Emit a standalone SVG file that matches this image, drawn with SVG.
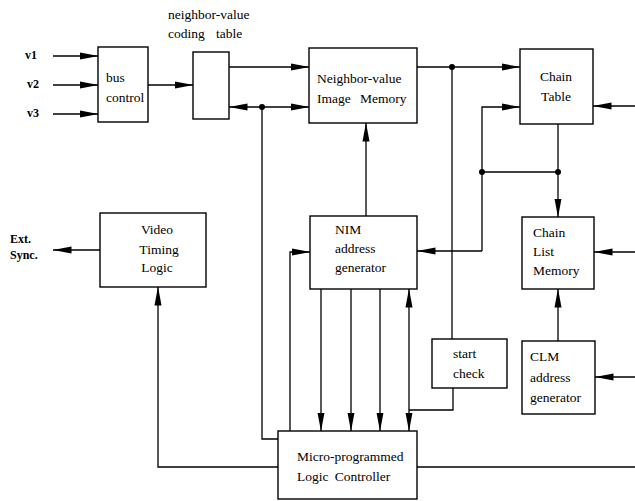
<svg xmlns="http://www.w3.org/2000/svg" width="635" height="501" viewBox="0 0 635 501">
<style>
.box{fill:#fff;stroke:#000;stroke-width:1.4}
.ln{fill:none;stroke:#000;stroke-width:1.3}
.ar{marker-end:url(#ah)}
.t{font-family:"Liberation Serif","Times New Roman",serif;font-size:13.5px;fill:#000}
.b{font-weight:bold;font-size:12px}
.m{text-anchor:middle}
.dot{fill:#000}
</style>
<defs>
<marker id="ah" markerUnits="userSpaceOnUse" markerWidth="19" markerHeight="8" viewBox="0 0 19 8" refX="18.5" refY="4" orient="auto-start-reverse">
<path d="M0,0.5 L19,4 L0,7.5 Z" fill="#000"/>
</marker>
</defs>
<rect width="635" height="501" fill="#fff"/>
<g id="connectors">
<path class="ln ar" d="M53,56 H98"/>
<path class="ln ar" d="M53,85 H98"/>
<path class="ln ar" d="M53,114 H98"/>
<path class="ln ar" d="M148,85 H193"/>
<path class="ln ar" d="M229,67 H309"/>
<path class="ln ar" d="M262,107 H229"/>
<path class="ln ar" d="M262,107 H309"/>
<path class="ln" d="M262,107 V439 H278"/>
<path class="ln ar" d="M417,67 H520"/>
<path class="ln" d="M452,67 V339"/>
<path class="ln ar" d="M482,251 V107 H520"/>
<path class="ln ar" d="M482,251 H417"/>
<path class="ln" d="M482,172 H558"/>
<path class="ln ar" d="M558,124 V217"/>
<path class="ln ar" d="M635,106 H593"/>
<path class="ln ar" d="M635,252 H594"/>
<path class="ln ar" d="M635,377 H595"/>
<path class="ln ar" d="M558,341 V289"/>
<path class="ln ar" d="M366,216 V123"/>
<path class="ln ar" d="M321,289 V431"/>
<path class="ln ar" d="M351,289 V431"/>
<path class="ln ar" d="M380,289 V431"/>
<path class="ln ar" d="M409,289 V431" style="marker-start:url(#ah)"/>
<path class="ln" d="M453,388 V410 H409"/>
<path class="ln ar" d="M290,431 V252 H310"/>
<path class="ln ar" d="M278,467 H158 V287"/>
<path class="ln" d="M417,467 H635"/>
<path class="ln ar" d="M100,250 H53"/>
<circle class="dot" cx="262" cy="107" r="3"/>
<circle class="dot" cx="452" cy="67" r="3"/>
<circle class="dot" cx="482" cy="172" r="3"/>
<circle class="dot" cx="558" cy="172" r="3"/>
</g>
<g id="labels">
<text class="t" x="168" y="19">neighbor-value</text>
<text class="t" x="168" y="38" word-spacing="8">coding table</text>
<text class="t b" x="25" y="59">v1</text>
<text class="t b" x="27" y="88">v2</text>
<text class="t b" x="27" y="117">v3</text>
<text class="t b" x="10" y="243">Ext.</text>
<text class="t b" x="10" y="259">Sync.</text>
</g>
<g id="bus-control">
<rect class="box" x="98" y="47" width="50" height="75"/>
<text class="t" x="106" y="82">bus</text>
<text class="t" x="106" y="102">control</text>
</g>
<g id="coding-table">
<rect class="box" x="193" y="52" width="36" height="67"/>
</g>
<g id="nim-memory">
<rect class="box" x="309" y="48" width="108" height="75"/>
<text class="t" x="317" y="83">Neighbor-value</text>
<text class="t" x="317" y="103" word-spacing="6">Image Memory</text>
</g>
<g id="chain-table">
<rect class="box" x="520" y="49" width="73" height="75"/>
<text class="t m" x="556" y="81">Chain</text>
<text class="t m" x="556" y="101">Table</text>
</g>
<g id="video-timing-logic">
<rect class="box" x="100" y="213" width="106" height="74"/>
<text class="t m" x="157" y="234">Video</text>
<text class="t m" x="159" y="254">Timing</text>
<text class="t m" x="157" y="272">Logic</text>
</g>
<g id="nim-address-generator">
<rect class="box" x="310" y="216" width="107" height="73"/>
<text class="t" x="335" y="234">NIM</text>
<text class="t" x="335" y="253">address</text>
<text class="t" x="335" y="272">generator</text>
</g>
<g id="chain-list-memory">
<rect class="box" x="522" y="217" width="72" height="72"/>
<text class="t" x="533" y="237">Chain</text>
<text class="t" x="533" y="256">List</text>
<text class="t" x="533" y="275">Memory</text>
</g>
<g id="start-check">
<rect class="box" x="432" y="339" width="75" height="49"/>
<text class="t" x="453" y="358">start</text>
<text class="t" x="453" y="378">check</text>
</g>
<g id="clm-address-generator">
<rect class="box" x="522" y="341" width="73" height="73"/>
<text class="t" x="530" y="361">CLM</text>
<text class="t" x="530" y="382">address</text>
<text class="t" x="530" y="402">generator</text>
</g>
<g id="micro-programmed-logic-controller">
<rect class="box" x="278" y="431" width="139" height="68"/>
<text class="t" x="297" y="461">Micro-programmed</text>
<text class="t" x="297" y="481" word-spacing="3">Logic Controller</text>
</g>
</svg>
